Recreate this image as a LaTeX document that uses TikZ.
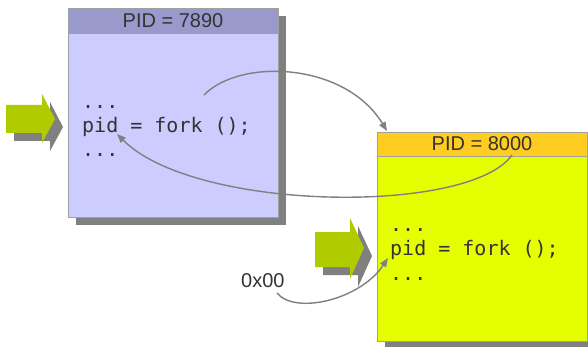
\documentclass[tikz,border=0pt]{standalone}
\usepackage{fontspec}
\setmainfont{Liberation Sans}
\newfontfamily\codefont{DejaVu Sans Mono}
\usetikzlibrary{arrows.meta}

\definecolor{parenthead}{HTML}{9999CC}
\definecolor{parentbody}{HTML}{CCCCFF}
\definecolor{childhead}{HTML}{FFCC22}
\definecolor{childbody}{HTML}{E6FF00}
\definecolor{shadowgray}{HTML}{808080}
\definecolor{rim}{HTML}{A0A0A0}
\definecolor{flowgreen}{HTML}{B0CC00}
\definecolor{ink}{HTML}{333333}
\definecolor{link}{HTML}{808080}

\tikzset{
  panel/.style={draw=rim, line width=0.8pt, inner sep=0pt, outer sep=0pt, anchor=north west},
  panelshadow/.style={fill=shadowgray, draw=none, inner sep=0pt, outer sep=0pt, anchor=north west},
  headtext/.style={text=ink, font=\fontsize{20}{24}\selectfont},
  codeline/.style={text=ink, font=\codefont\fontsize{20}{24}\selectfont, anchor=base west, inner sep=0pt},
  jump/.style={draw=link, line width=1.4pt, -{Triangle[length=9pt,width=7pt]}},
}

\begin{document}
\begin{tikzpicture}[x=1pt, y=-1pt]
\useasboundingbox[fill=white] (0,0) rectangle (588,347);

% parent process
\node[panelshadow, minimum width=210pt, minimum height=209pt] (p1s) at (76,16) {};
\node[panel, fill=parentbody, minimum width=210pt, minimum height=209pt] (p1) at (68,8) {};
\node[panel, fill=parenthead, minimum width=210pt, minimum height=25pt] (p1h) at (68,8) {};
\node[headtext] (p1t) at (p1h.center) {PID = 7890};
\node[codeline] (p1a) at (82,109) {...};
\node[codeline] (p1b) at (82,133) {pid = fork ();};
\node[codeline] (p1c) at (82,157) {...};

% child process
\node[panelshadow, minimum width=210pt, minimum height=209pt] (p2s) at (385,140) {};
\node[panel, fill=childbody, minimum width=210pt, minimum height=209pt] (p2) at (377,132) {};
\node[panel, fill=childhead, minimum width=210pt, minimum height=24pt] (p2h) at (377,132) {};
\node[headtext] (p2t) at (p2h.center) {PID = 8000};
\node[codeline] (p2a) at (390,231) {...};
\node[codeline] (p2b) at (390,255.5) {pid = fork ();};
\node[codeline] (p2c) at (390,280) {...};

% block arrows marking the current instruction, each with its drop shadow
\fill[shadowgray] (14,113) -- (50,113) -- (50,102) -- (63,127) -- (50,151) -- (50,141) -- (14,141) -- cycle;
\fill[flowgreen] (6,105) -- (42,105) -- (42,94) -- (55,119) -- (42,143) -- (42,133) -- (6,133) -- cycle;

\fill[shadowgray] (323,240) -- (358,240) -- (358,226) -- (372,256) -- (358,287) -- (358,275) -- (323,275) -- cycle;
\fill[flowgreen] (315,232) -- (350,232) -- (350,218) -- (364,248) -- (350,279) -- (350,267) -- (315,267) -- cycle;

% return value in the child
\node[text=ink, font=\fontsize{20}{24}\selectfont, inner sep=0pt, anchor=base west] (zero) at (241,287) {0x00};

% control flow
\coordinate (forkcall) at (204,95);
\coordinate (childret) at (512,155);
\coordinate (zeroout) at (277,293);
\coordinate (p1land) at (117,134);
\coordinate (p2land) at (388,258);
\coordinate (p2top) at (387,131);

\draw[jump] (forkcall) .. controls (240,58) and (345,62) .. (p2top);
\draw[jump] (childret) .. controls (470,215) and (195,212) .. (p1land);
\draw[jump] (zeroout) .. controls (295,315) and (360,300) .. (p2land);
\end{tikzpicture}
\end{document}
